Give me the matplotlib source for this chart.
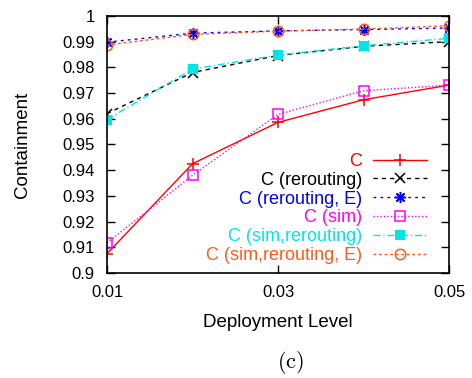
import matplotlib.pyplot as plt
import numpy as np

plt.rcParams['font.family'] = ['Liberation Sans', 'DejaVu Sans']
plt.rcParams['mathtext.fontset'] = 'cm'

# -------------- data --------------
levels = [0.01, 0.02, 0.03, 0.04, 0.05]
c_plain = [0.9075, 0.9425, 0.9586, 0.9674, 0.9731]
c_rerouting = [0.962, 0.978, 0.9846, 0.9882, 0.990]
c_rerouting_e = [0.9898, 0.9933, 0.9942, 0.9947, 0.9953]
c_sim = [0.9117, 0.938, 0.9617, 0.9709, 0.9731]
c_sim_rerouting = [0.9597, 0.9793, 0.9848, 0.9884, 0.9913]
c_sim_rerouting_e = [0.9887, 0.9928, 0.9941, 0.9949, 0.9962]
labels = ['C', 'C (rerouting)', 'C (rerouting, E)', 'C (sim)',
          'C (sim,rerouting)', 'C (sim,rerouting, E)']
# ----------------------------------

fig = plt.figure(figsize=(4.72, 3.78), dpi=100)
ax = fig.add_axes([0.2267, 0.2778, 0.7246, 0.68])

series = [c_plain, c_rerouting, c_rerouting_e, c_sim, c_sim_rerouting, c_sim_rerouting_e]
styles = [
    dict(color='#ff0000', ls='-', marker='+', ms=9, mew=1.1),
    dict(color='black', ls=(0, (3, 3)), marker='x', ms=7, mew=1.1),
    dict(color='#0000ff', ls=(0, (2, 3)), marker=(8, 2, 0), ms=8, mew=1.1),
    dict(color='#ff00ff', ls=(0, (1, 1.5)), marker='s', ms=7, mfc='none', mew=1.1),
    dict(color='#00e5e5', ls=(0, (5, 2, 1, 2)), marker='s', ms=7.5, mew=0),
    dict(color='#ff5a1e', ls=(0, (2, 2)), marker='o', ms=7.5, mfc='none', mew=1.1),
]
for y, lab, st in zip(series, labels, styles):
    ax.plot(levels, y, label=lab, lw=1.0, **st)

ax.set_xlim(0.01, 0.05)
ax.set_ylim(0.9, 1.0)
ax.set_xticks([0.01, 0.03, 0.05])
ax.set_xticklabels(['0.01', '0.03', '0.05'])
yt = np.arange(0.9, 1.0001, 0.01)
ax.set_yticks(yt)
ax.set_yticklabels(['0.9'] + ['%.2f' % v for v in yt[1:-1]] + ['1'])
ax.tick_params(direction='in', top=True, right=True, length=6, width=1,
               labelsize=12)
ax.tick_params(axis='x', pad=9)
ax.tick_params(axis='y', pad=9)
for s in ax.spines.values():
    s.set_linewidth(1.2)

ax.set_xlabel('Deployment Level', fontsize=13.5, labelpad=10)
ax.set_ylabel('Containment', fontsize=13.5, labelpad=22)

leg = ax.legend(loc='lower right', bbox_to_anchor=(0.936, 0.035), frameon=False,
                markerfirst=False, labelcolor='linecolor', fontsize=13,
                handlelength=3.0, handletextpad=0.6, labelspacing=0.1,
                borderaxespad=0, borderpad=0)

fig.text(0.615, 0.04, r'$(\mathrm{c})$', fontsize=16, ha='center', va='center')

fig.savefig('out.png', dpi=100)
